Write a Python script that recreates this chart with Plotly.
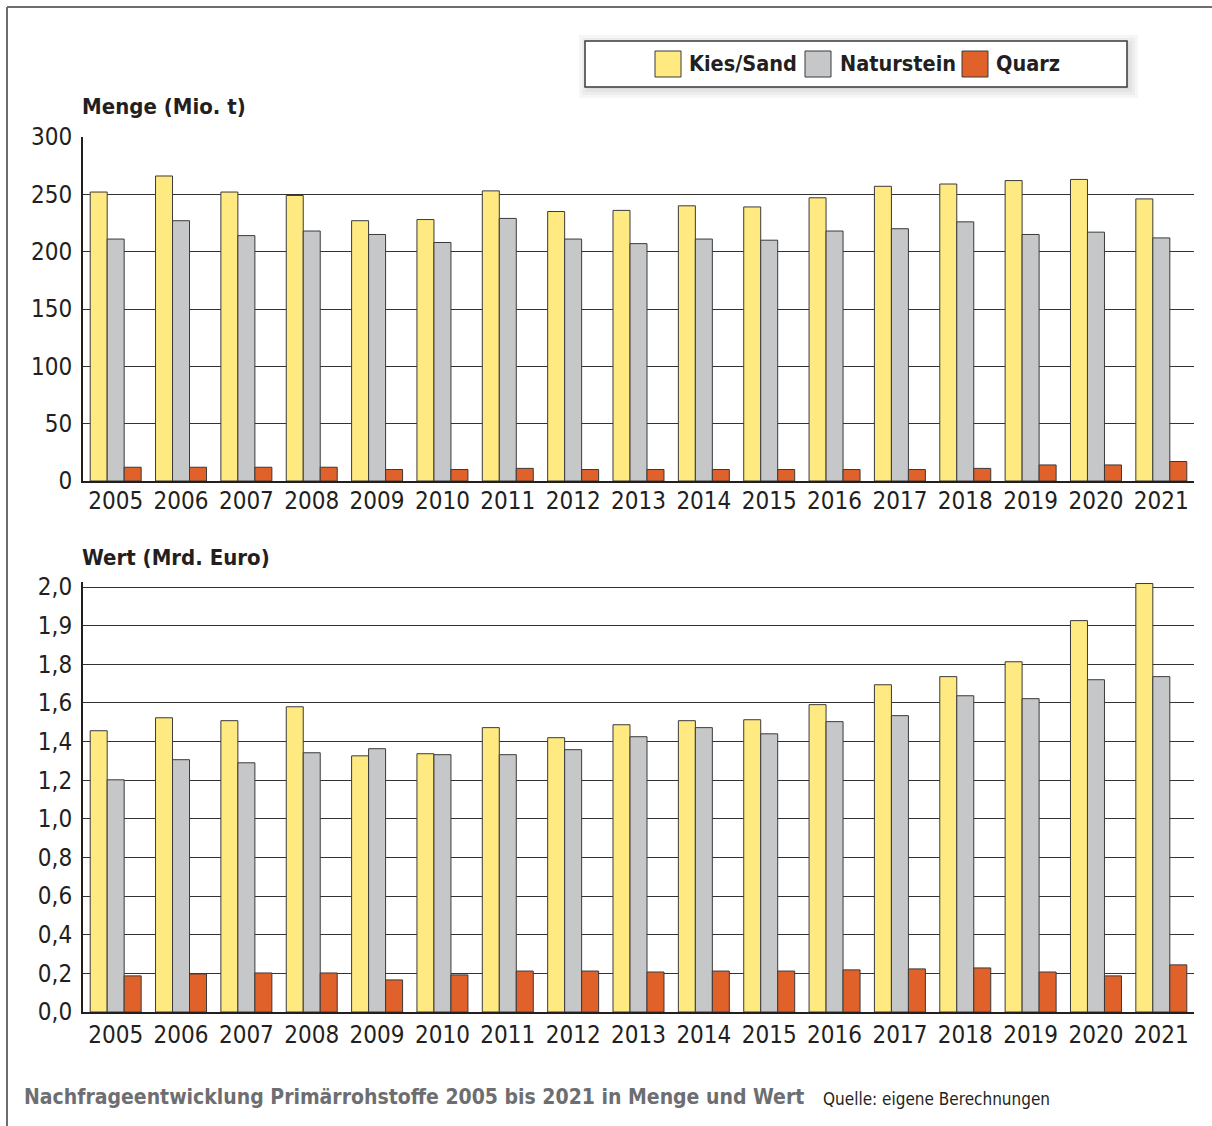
import plotly.graph_objects as go

years = [str(y) for y in range(2005, 2022)]
series_names = ["Kies/Sand", "Naturstein", "Quarz"]
colors = ["#FFE981", "#C6C7C9", "#E0622A"]

# Menge (Mio. t)
menge_kies = [252, 266, 252, 249, 227, 228, 253, 235, 236, 240, 239, 247, 257, 259, 262, 263, 246]
menge_natur = [211, 227, 214, 218, 215, 208, 229, 211, 207, 211, 210, 218, 220, 226, 215, 217, 212]
menge_quarz = [12, 12, 12, 12, 10, 10, 11, 10, 10, 10, 10, 10, 10, 11, 14, 14, 17]

# Wert (Mrd. Euro) - read on the chart's evenly spaced grid
wert_kies = [1.456, 1.523, 1.508, 1.580, 1.326, 1.337, 1.472, 1.420, 1.487, 1.508, 1.513, 1.591, 1.694, 1.736, 1.813, 2.026, 2.218]
wert_natur = [1.202, 1.306, 1.290, 1.342, 1.363, 1.332, 1.332, 1.358, 1.425, 1.472, 1.440, 1.503, 1.534, 1.637, 1.622, 1.720, 1.736]
wert_quarz = [0.187, 0.197, 0.202, 0.202, 0.166, 0.192, 0.212, 0.212, 0.207, 0.212, 0.212, 0.218, 0.223, 0.228, 0.207, 0.187, 0.244]

menge_ticks = [0, 50, 100, 150, 200, 250, 300]
menge_ticktext = ["0", "50", "100", "150", "200", "250", "300"]
wert_ticks = [0, 0.2, 0.4, 0.6, 0.8, 1.0, 1.2, 1.4, 1.6, 1.8, 2.0, 2.2]
wert_ticktext = ["0,0", "0,2", "0,4", "0,6", "0,8", "1,0", "1,2", "1,4", "1,6", "1,8", "1,9", "2,0"]

title_top = "Menge (Mio. t)"
title_bottom = "Wert (Mrd. Euro)"
footer_main = "Nachfrageentwicklung Primärrohstoffe 2005 bis 2021 in Menge und Wert"
footer_src = "Quelle: eigene Berechnungen"

FONT = "DejaVu Sans Condensed, Roboto, sans-serif"
TXT = "#231f20"
W, H = 1212, 1126

def px(x):
    return x / W

def py(y):
    return 1 - y / H

fig = go.Figure()
top_vals = [menge_kies, menge_natur, menge_quarz]
bot_vals = [wert_kies, wert_natur, wert_quarz]
for name, col, v in zip(series_names, colors, top_vals):
    fig.add_trace(go.Bar(x=years, y=v, name=name, marker=dict(color=col, line=dict(color="#3a3a3a", width=1)),
                         xaxis="x", yaxis="y", showlegend=False))
for name, col, v in zip(series_names, colors, bot_vals):
    fig.add_trace(go.Bar(x=years, y=v, name=name, marker=dict(color=col, line=dict(color="#3a3a3a", width=1)),
                         xaxis="x2", yaxis="y2", showlegend=False))

axis_common = dict(showline=True, linecolor=TXT, linewidth=2, ticks="", zeroline=False, automargin=False,
                   tickfont=dict(family=FONT, size=24, color=TXT))

# bottom panel: gridline 2,0 (value 2.2) sits at pixel 587; allow a little headroom for the tallest bar
bot_top_val = 2.225
bot_px_per_unit = (1012 - 587) / 2.2
bot_top_px = 1012 - bot_top_val * bot_px_per_unit

fig.update_layout(
    width=W, height=H, margin=dict(l=0, r=0, t=0, b=0, autoexpand=False),
    paper_bgcolor="white", plot_bgcolor="white",
    barmode="group", bargap=0.22, bargroupgap=0,
    xaxis=dict(domain=[px(83), px(1194)], anchor="y", showgrid=False, ticklabelstandoff=-3, **axis_common),
    yaxis=dict(domain=[py(481), py(137)], anchor="x", range=[0, 300], tickvals=menge_ticks, ticktext=menge_ticktext,
               showgrid=True, gridcolor="#333333", gridwidth=1, ticklabelstandoff=4, **axis_common),
    xaxis2=dict(domain=[px(83), px(1194)], anchor="y2", showgrid=False, ticklabelstandoff=0, **axis_common),
    yaxis2=dict(domain=[py(1012), py(bot_top_px)], anchor="x2", range=[0, bot_top_val], tickvals=wert_ticks, ticktext=wert_ticktext,
                showgrid=True, gridcolor="#333333", gridwidth=1, ticklabelstandoff=4, **axis_common),
)

shapes = []
# frame lines
shapes.append(dict(type="line", xref="paper", yref="paper", x0=px(7), x1=1, y0=py(7), y1=py(7), line=dict(color="#6d6d6d", width=2)))
shapes.append(dict(type="line", xref="paper", yref="paper", x0=px(7), x1=px(7), y0=py(7), y1=0, line=dict(color="#6d6d6d", width=2)))
# legend box soft shadow + box
for i in range(4):
    o = 2 + 3 * i
    shapes.append(dict(type="rect", xref="paper", yref="paper", x0=px(585 - o + 5), x1=px(1127 + o), y0=py(87 + o), y1=py(41 - o + 5),
                       line=dict(width=0), fillcolor="rgba(0,0,0,0.035)", layer="below"))
shapes.append(dict(type="rect", xref="paper", yref="paper", x0=px(585), x1=px(1127), y0=py(87), y1=py(41),
                   line=dict(color="#3a3a3a", width=1.5), fillcolor="white"))
sw_x = [655, 805, 962]
lab_x = [687, 838, 994]
annotations = []
for sx, lx, col, name in zip(sw_x, lab_x, colors, series_names):
    shapes.append(dict(type="rect", xref="paper", yref="paper", x0=px(sx), x1=px(sx + 26), y0=py(77), y1=py(51),
                       line=dict(color="#3a3a3a", width=1), fillcolor=col))
    annotations.append(dict(text="<b>%s</b>" % name, xref="paper", yref="paper", x=px(lx), y=py(64), xanchor="left", yanchor="middle",
                            showarrow=False, font=dict(family=FONT, size=21.5, color=TXT)))

annotations.append(dict(text="<b>%s</b>" % title_top, xref="paper", yref="paper", x=px(80), y=py(106), xanchor="left", yanchor="middle",
                        showarrow=False, font=dict(family=FONT, size=22, color=TXT)))
annotations.append(dict(text="<b>%s</b>" % title_bottom, xref="paper", yref="paper", x=px(80), y=py(557), xanchor="left", yanchor="middle",
                        showarrow=False, font=dict(family=FONT, size=22, color=TXT)))
annotations.append(dict(text="<b>%s</b>" % footer_main, xref="paper", yref="paper", x=px(22), y=py(1097), xanchor="left", yanchor="middle",
                        showarrow=False, font=dict(family=FONT, size=21, color="#6d6e71")))
annotations.append(dict(text=footer_src, xref="paper", yref="paper", x=px(821), y=py(1099), xanchor="left", yanchor="middle",
                        showarrow=False, font=dict(family=FONT, size=17, color=TXT)))

fig.update_layout(shapes=shapes, annotations=annotations)
fig.write_html("out.html")
